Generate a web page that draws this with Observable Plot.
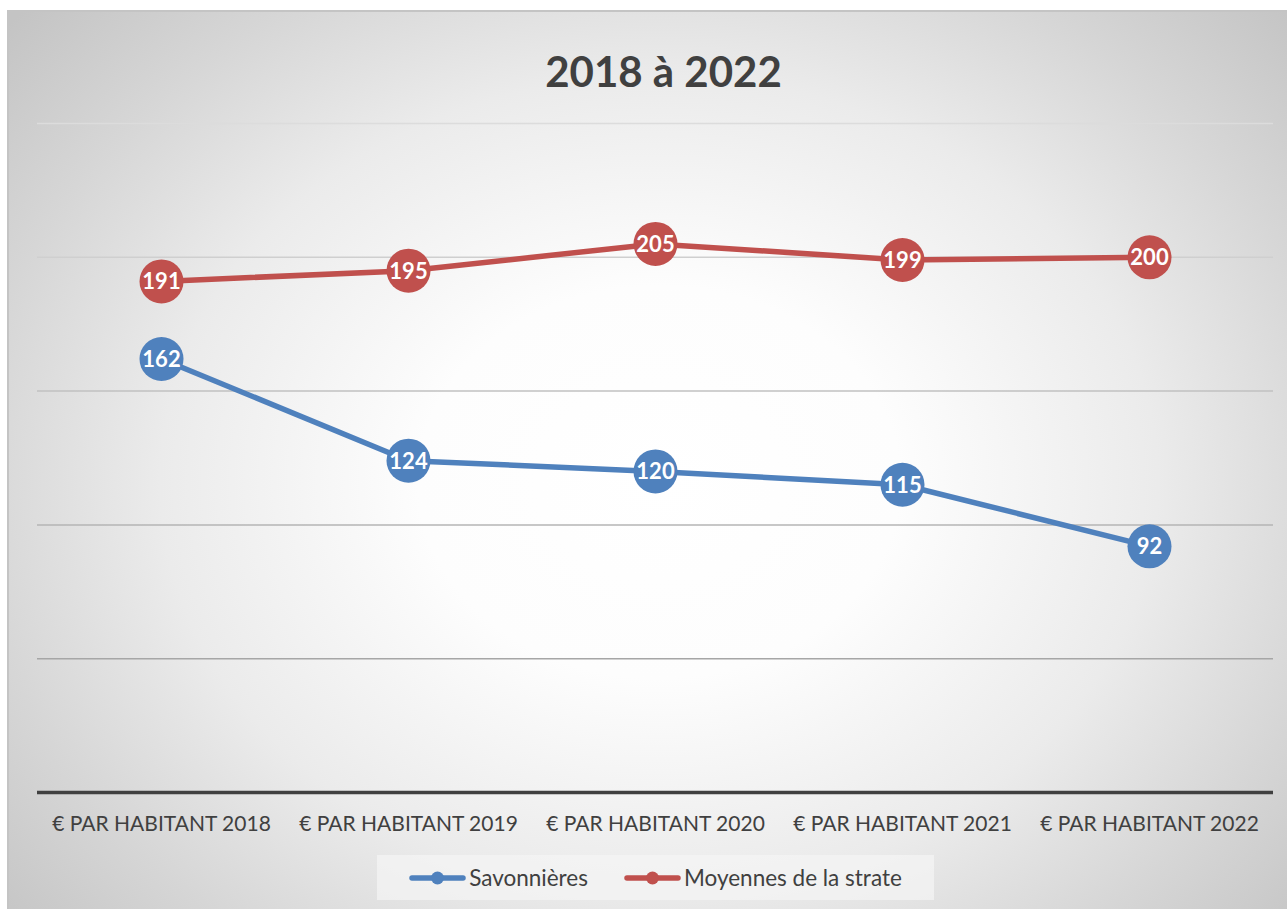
<!DOCTYPE html>
<html>
<head>
<meta charset="utf-8">
<script src="https://cdn.jsdelivr.net/npm/d3@7"></script>
<script src="https://cdn.jsdelivr.net/npm/@observablehq/plot@0.6"></script>
<style>
  html, body { margin: 0; padding: 0; width: 1287px; height: 909px; overflow: hidden; background: #ffffff; font-family: Lato, "Open Sans", sans-serif; }
  #frame { position: absolute; left: 7px; top: 10px; width: 1280px; height: 899px; box-sizing: border-box;
    border-top: 2px solid #c4c4c4; border-left: 2px solid #c4c4c4;
    background: radial-gradient(ellipse 860px 700px at 650px 470px, #ffffff 0%, #fdfdfd 28%, #ebebeb 58%, #d6d6d6 80%, #c4c4c4 100%); }
  #title { position: absolute; left: 20px; width: 1287px; top: 46px; text-align: center; font-family: Lato, sans-serif; font-weight: bold; font-size: 42px; color: #404040; }
  #chart { position: absolute; left: 0; top: 0; }
  #legend { position: absolute; left: 377px; top: 855px; width: 557px; height: 45px; background: rgba(245,245,245,0.7);
    display: flex; align-items: center; justify-content: center; gap: 36px; font-family: Lato, sans-serif; font-size: 22.5px; color: #404040; }
  .item { display: flex; align-items: center; }
  .item svg { margin-right: 3px; }
</style>
</head>
<body>
<div id="frame"></div>
<div id="title">2018 à 2022</div>
<div id="chart"></div>
<div id="legend"></div>
<script>
const categories = ["€ PAR HABITANT 2018", "€ PAR HABITANT 2019", "€ PAR HABITANT 2020", "€ PAR HABITANT 2021", "€ PAR HABITANT 2022"];
const seriesNames = ["Savonnières", "Moyennes de la strate"];
const savonnieres = [162, 124, 120, 115, 92];
const moyennes = [191, 195, 205, 199, 200];
const yTicks = [50, 100, 150, 200, 250];
const colors = ["#4f81bd", "#c0504d"];

const data = [];
categories.forEach((c, i) => {
  data.push({cat: c, value: savonnieres[i], series: seriesNames[0]});
  data.push({cat: c, value: moyennes[i], series: seriesNames[1]});
});

const gridColor = d3.scaleLinear().domain([50, 250]).range(["#a6a6a6", "#dcdcdc"]);

const chart = Plot.plot({
  width: 1287,
  height: 909,
  marginLeft: 37,
  marginRight: 14,
  marginTop: 123,
  marginBottom: 117,
  style: { background: "transparent", fontFamily: "Lato, sans-serif", overflow: "visible" },
  x: { type: "point", domain: categories, padding: 0.5, label: null },
  y: { domain: [0, 250], label: null, axis: null },
  color: { domain: seriesNames, range: colors },
  marks: [
    Plot.ruleY(yTicks, { y: d => d, stroke: d => gridColor(d), strokeWidth: 1.5 }),
    Plot.ruleY([0], { stroke: "#404040", strokeWidth: 3.5 }),
    Plot.axisX({ tickSize: 0, tickPadding: 24, fontSize: 21, fill: "#404040", label: null }),
    Plot.line(data, { x: "cat", y: "value", z: "series", stroke: "series", strokeWidth: 5.5, strokeLinecap: "round" }),
    Plot.dot(data, { x: "cat", y: "value", fill: "series", r: 22, stroke: null }),
    Plot.text(data, { x: "cat", y: "value", text: d => String(d.value), fill: "white", fontWeight: "bold", fontSize: 22, dy: 1 })
  ]
});
document.getElementById("chart").appendChild(chart);

const legend = document.getElementById("legend");
seriesNames.forEach((name, i) => {
  const item = document.createElement("div");
  item.className = "item";
  item.innerHTML = `<svg width="57" height="16"><line x1="3" y1="8" x2="54" y2="8" stroke="${colors[i]}" stroke-width="5.5" stroke-linecap="round"/><circle cx="28.5" cy="8" r="6.5" fill="${colors[i]}"/></svg><span>${name}</span>`;
  legend.appendChild(item);
});
</script>
</body>
</html>
